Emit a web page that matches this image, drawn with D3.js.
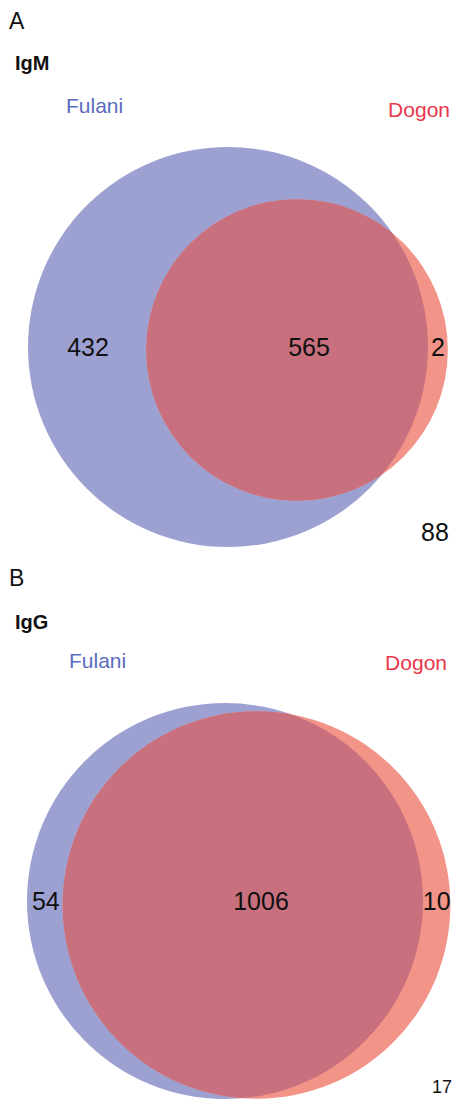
<!DOCTYPE html>
<html>
<head>
<meta charset="utf-8">
<script src="https://cdn.jsdelivr.net/npm/d3@7"></script>
<style>
  html, body { margin: 0; padding: 0; background: #fff; }
  svg { display: block; }
  text { font-family: "Liberation Sans", Arial, Helvetica, sans-serif; }
</style>
</head>
<body>
<svg id="chart" width="454" height="1101"></svg>
<script>
// Reactive antigens per isotype, split by population
const panelLetters = ["A", "B"];
const isotypes = ["IgM", "IgG"];
const setNames = ["Fulani", "Dogon"];
const fulaniOnly = [432, 54];
const shared = [565, 1006];
const dogonOnly = [2, 10];
const neither = [88, 17];

// Layout (pixels)
const panelTop = [0, 554];        // vertical origin of each panel
const circleCy = [347, 347];      // circle centre, relative to panel origin
const dogonDy = [3, 4];           // small vertical shift of the Dogon circle
const maxRadius = [200, 198];     // radius of the larger set in each panel
const leftEdge = [28, 27];        // left edge of the Fulani circle
const centreGap = [69, 31.5];     // horizontal gap between the two centres
const sharedLabelDx = [12, 4.5];  // shared label offset from the Dogon centre
const neitherPos = [[421, 541], [432, 1093]];
const neitherSize = [25, 18];

const colFulani = "#9da1d2";
const colDogon = "#f29488";
const colBoth = "#c8707d";
const colFulaniText = "#5b6bc0";
const colDogonText = "#e8374b";

const svg = d3.select("#chart");
const defs = svg.append("defs");

panelLetters.forEach((letter, i) => {
  const g = svg.append("g").attr("transform", `translate(0,${panelTop[i]})`);

  const totF = fulaniOnly[i] + shared[i];
  const totD = dogonOnly[i] + shared[i];
  const r = d3.scaleSqrt().domain([0, Math.max(totF, totD)]).range([0, maxRadius[i]]);

  const rF = r(totF), rD = r(totD);
  const cxF = leftEdge[i] + rF;
  const cxD = cxF + centreGap[i];
  const cyF = circleCy[i];
  const cyD = circleCy[i] + dogonDy[i];

  // panel letter and isotype heading
  g.append("text").attr("x", 9).attr("y", i === 0 ? 29 : 32)
    .attr("font-size", 23).attr("fill", "#111").text(letter);
  g.append("text").attr("x", 15).attr("y", i === 0 ? 70 : 75)
    .attr("font-size", 20).attr("font-weight", "bold").attr("fill", "#111").text(isotypes[i]);

  // set names
  g.append("text").attr("x", i === 0 ? 66 : 69).attr("y", i === 0 ? 113 : 114)
    .attr("font-size", 21).attr("fill", colFulaniText).text(setNames[0]);
  g.append("text").attr("x", i === 0 ? 450 : 447).attr("y", i === 0 ? 117 : 116)
    .attr("text-anchor", "end")
    .attr("font-size", 21).attr("fill", colDogonText).text(setNames[1]);

  // circles: Fulani, Dogon, and their intersection
  const clipId = `clipF${i}`;
  defs.append("clipPath").attr("id", clipId)
    .append("circle").attr("cx", cxF).attr("cy", cyF).attr("r", rF);

  g.append("circle").attr("cx", cxF).attr("cy", cyF).attr("r", rF).attr("fill", colFulani);
  g.append("circle").attr("cx", cxD).attr("cy", cyD).attr("r", rD).attr("fill", colDogon);
  g.append("circle").attr("cx", cxD).attr("cy", cyD).attr("r", rD)
    .attr("clip-path", `url(#${clipId})`).attr("fill", colBoth);

  // region counts
  const numSize = 25;
  const baseY = cyF + numSize * 0.716 / 2;
  const fLeft = cxF - rF, fRight = cxF + rF;
  const dLeft = cxD - rD, dRight = cxD + rD;
  const labels = [
    { v: fulaniOnly[i], x: (fLeft + dLeft) / 2 + 1 },
    { v: shared[i], x: cxD + sharedLabelDx[i] },
    { v: dogonOnly[i], x: (fRight + dRight) / 2 }
  ];
  g.selectAll("text.count").data(labels).enter().append("text")
    .attr("class", "count")
    .attr("x", d => d.x).attr("y", baseY)
    .attr("text-anchor", "middle")
    .attr("font-size", numSize).attr("fill", "#111")
    .text(d => d.v);

  // antigens recognised by neither population
  svg.append("text").attr("x", neitherPos[i][0]).attr("y", neitherPos[i][1])
    .attr("font-size", neitherSize[i]).attr("fill", "#111").text(neither[i]);
});
</script>
</body>
</html>
